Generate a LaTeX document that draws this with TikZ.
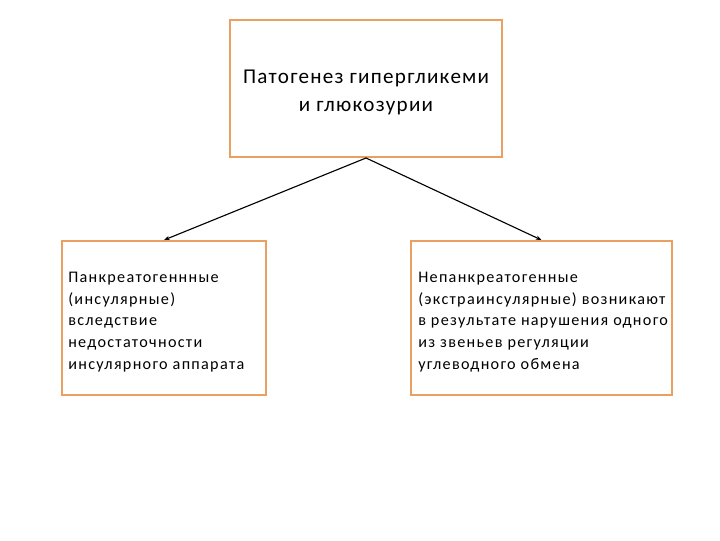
\documentclass[tikz,border=0pt]{standalone}
\usepackage{fontspec}
\setmainfont{Carlito}
\usetikzlibrary{arrows.meta}

\definecolor{marco}{RGB}{233,160,96}

\begin{document}
\begin{tikzpicture}[x=0.025cm, y=-0.025cm,
    caja/.style={draw=marco, line width=1.4pt, fill=white, inner sep=0pt},
    texto/.style={anchor=west, align=left, inner sep=0pt,
        font=\fontsize{11.5}{15.4}\selectfont\addfontfeatures{LetterSpace=8}},
    flecha/.style={line width=0.8pt, -{Stealth[length=4pt, width=3pt]}}]

    \useasboundingbox (0, 0) rectangle (720, 540);

    % Cajas
    \node[caja, minimum width=272*0.025cm, minimum height=137*0.025cm]
          (patogenez) at (366, 88.5) {};
    \node[align=center, inner sep=0pt,
          font=\fontsize{15}{20}\selectfont\addfontfeatures{LetterSpace=6}]
          (titulo) at (366, 92.5) {Патогенез гипергликеми\\и глюкозурии};

    \node[caja, minimum width=204*0.025cm, minimum height=154*0.025cm]
          (pankr) at (164, 318) {};
    \node[caja, minimum width=261*0.025cm, minimum height=154*0.025cm]
          (nepankr) at (541.5, 318) {};

    % Textos
    \node[texto] (textoA) at (68, 322)
          {Панкреатогеннные\\(инсулярные)\\вследствие\\недостаточности\\инсулярного аппарата};
    \node[texto] (textoB) at (418, 322)
          {Непанкреатогенные\\(экстраинсулярные) возникают\\в результате нарушения одного\\из звеньев регуляции\\углеводного обмена};

    % Flechas
    \draw[flecha] (patogenez.south) -- (pankr.north);
    \draw[flecha] (patogenez.south) -- (nepankr.north);

\end{tikzpicture}
\end{document}
